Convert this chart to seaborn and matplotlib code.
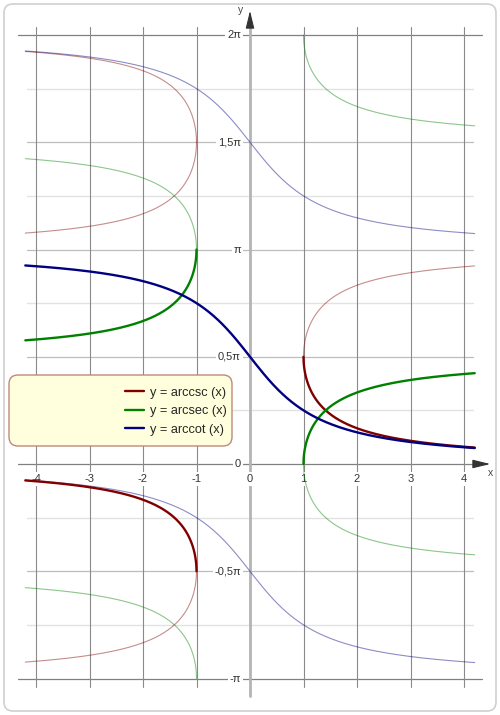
import numpy as np
import seaborn as sns
import matplotlib.pyplot as plt
from matplotlib.patches import FancyBboxPatch
from matplotlib.transforms import IdentityTransform

sns.set_theme(style="white")
plt.rcParams['font.family'] = ['Liberation Sans', 'DejaVu Sans']

# -----------------------------------------------------
# Data: x samples on both branches (dense near |x| = 1)
# -----------------------------------------------------
x_right = 1 + np.linspace(0, 1, 800) ** 2 * 3.2
x_left = -x_right
x_all = np.linspace(-4.2, 4.2, 1200)

x_ticks = [-4, -3, -2, -1, 0, 1, 2, 3, 4]
x_tick_labels = ["-4", "-3", "-2", "-1", "0", "1", "2", "3", "4"]
y_ticks_pi = [2, 1.5, 1, 0.5, 0, -0.5, -1]
y_tick_labels = ["2π", "1,5π", "π", "0,5π", "0", "-0,5π", "-π"]
y_minor_pi = [1.75, 1.25, 0.75, 0.25, -0.25, -0.75]

labels = ["y = arccsc (x)", "y = arcsec (x)", "y = arccot (x)"]
colors = ["#800000", "#008000", "#000080"]

PI = np.pi
csc_r = np.arcsin(1 / x_right)
csc_l = np.arcsin(1 / x_left)
sec_r = np.arccos(1 / x_right)
sec_l = np.arccos(1 / x_left)
cot = PI / 2 - np.arctan(x_all)

main = [
    [(x_right, csc_r), (x_left, csc_l)],
    [(x_right, sec_r), (x_left, sec_l)],
    [(x_all, cot)],
]
other = [
    [(x_right, PI - csc_r), (x_left, 2 * PI + csc_l), (x_left, PI - csc_l), (x_left, -PI - csc_l)],
    [(x_right, 2 * PI - sec_r), (x_right, -sec_r), (x_left, 2 * PI - sec_l), (x_left, -sec_l)],
    [(x_all, cot + PI), (x_all, cot - PI)],
]

# pixel -> data helpers (layout only)
def px(p):
    return (p - 250) / 53.5

def py(p):
    return (464 - p) / 214.5 * PI

fig = plt.figure(figsize=(5, 7.15), dpi=100)
ax = fig.add_axes([0, 0, 1, 1])
ax.set_xlim(px(0), px(500))
ax.set_ylim(py(715), py(0))
ax.axis("off")

# outer rounded frame
frame = FancyBboxPatch((4, 4), 492, 707, boxstyle="round,pad=0,rounding_size=9",
                       transform=IdentityTransform(), facecolor="white",
                       edgecolor="#d0d0d0", lw=1.2, zorder=0)
ax.add_artist(frame)

# grid
for yv in y_minor_pi:
    ax.plot([px(27), px(473)], [yv * PI] * 2, color="#e2e2e2", lw=1, zorder=1)
for yv in y_ticks_pi:
    if yv in (2, 0, -1):
        ax.plot([px(18), px(482)], [yv * PI] * 2, color="#808080", lw=0.9, zorder=1.5)
    else:
        ax.plot([px(27), px(473)], [yv * PI] * 2, color="#bdbdbd", lw=0.9, zorder=1.2)
for xv in x_ticks:
    if xv != 0:
        ax.plot([xv, xv], [py(687), py(27)], color="#8a8a8a", lw=0.8, zorder=1.5)

# axes with arrows
arrow = dict(arrowstyle="-|>,head_length=0.9,head_width=0.22", color="#333333", lw=0.8)
ax.plot([0, 0], [py(696), py(20)], color="#b4b4b4", lw=2, zorder=2)
ax.annotate("", xy=(0, py(8)), xytext=(0, py(22)), arrowprops=arrow, zorder=2.5)
ax.annotate("", xy=(px(493), 0), xytext=(px(479), 0), arrowprops=arrow, zorder=2.5)
ax.plot([px(482), px(486)], [0, 0], color="#808080", lw=0.9, zorder=1.5)
ax.text(px(241), py(10), "y", fontsize=7.5, color="#444444", ha="center", va="center")
ax.text(px(490), py(473), "x", fontsize=7.5, color="#444444", ha="center", va="center")

box = dict(facecolor="white", edgecolor="none", pad=1.2)
for yv, lab in zip(y_ticks_pi, y_tick_labels):
    ax.text(px(241), yv * PI, lab, fontsize=8, color="#333333", ha="right",
            va="center", bbox=box, zorder=3)
for xv, lab in zip(x_ticks, x_tick_labels):
    ax.text(xv, py(479), lab, fontsize=8, color="#333333", ha="center",
            va="center", bbox=box, zorder=3)

# curves
for k in range(3):
    for xs, ys in other[k]:
        sns.lineplot(x=xs, y=ys, color=colors[k], lw=0.8, alpha=0.45, ax=ax,
                     estimator=None, zorder=4)
for k in range(3):
    for i, (xs, ys) in enumerate(main[k]):
        sns.lineplot(x=xs, y=ys, color=colors[k], lw=1.7, ax=ax, estimator=None,
                     label=labels[k] if i == 0 else None, zorder=5)

# legend box
lbox = FancyBboxPatch((9, 715 - 446), 223, 71, boxstyle="round,pad=0,rounding_size=9",
                      transform=IdentityTransform(), facecolor="#ffffdd",
                      edgecolor="#c08878", lw=1, zorder=6)
ax.add_artist(lbox)
leg = ax.legend(loc="upper right", bbox_to_anchor=(229 / 500, 1 - 384 / 715),
                frameon=False, fontsize=9.2, handlelength=1.5, handletextpad=0.4,
                labelspacing=0.52, borderaxespad=0, borderpad=0.2)
leg.set_zorder(7)

fig.savefig("out.png", dpi=100)
